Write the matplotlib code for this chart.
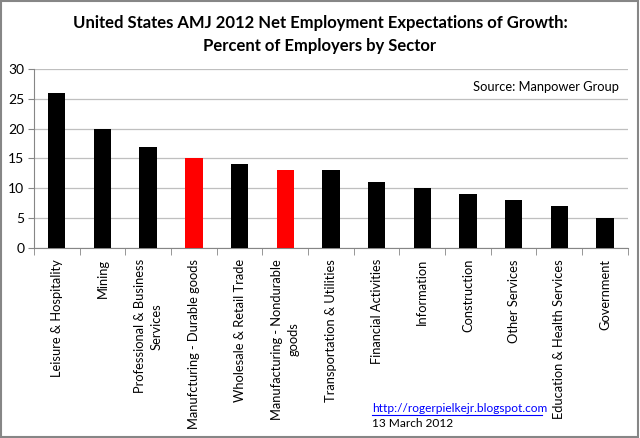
import matplotlib
matplotlib.use("Agg")
import matplotlib.pyplot as plt
from matplotlib.patches import Rectangle

plt.rcParams["font.family"] = ["Lato", "DejaVu Sans"]

sectors = [
    "Leisure & Hospitality",
    "Mining",
    "Professional & Business\nServices",
    "Manufcturing - Durable goods",
    "Wholesale & Retail Trade",
    "Manufacturing - Nondurable\ngoods",
    "Transportation & Utilities",
    "Financial Activities",
    "Information",
    "Construction",
    "Other Services",
    "Education & Health Services",
    "Government",
]
values = [26, 20, 17, 15, 14, 13, 13, 11, 10, 9, 8, 7, 5]
highlight = ["Manufcturing - Durable goods", "Manufacturing - Nondurable\ngoods"]

colors = ["#ff0000" if s in highlight else "#000000" for s in sectors]

fig = plt.figure(figsize=(6.4, 4.38), dpi=100)
ax = fig.add_axes([0.053, 0.434, 0.928, 0.4085])

x = range(len(sectors))
ax.bar(x, values, width=0.38, color=colors, zorder=3)

ax.set_ylim(0, 30)
ax.set_xlim(-0.5, len(sectors) - 0.5)
ax.set_yticks(range(0, 31, 5))
ax.yaxis.grid(True, color="#bfbfbf", linewidth=0.9, zorder=0)

ax.set_xticks(list(x))
ax.set_xticklabels(sectors, rotation=90, ha="center", va="top",
                   multialignment="center", fontsize=9.3, linespacing=1.5)
ax.set_xticks([i - 0.5 for i in range(len(sectors) + 1)], minor=True)
ax.tick_params(axis="x", which="major", length=0, pad=8)
ax.tick_params(axis="x", which="minor", length=5, color="#868686", direction="out")
ax.tick_params(axis="y", length=4, color="#868686", labelsize=10, pad=3)

for side in ["top", "right"]:
    ax.spines[side].set_visible(False)
for side in ["left", "bottom"]:
    ax.spines[side].set_color("#868686")

fig.text(0.5, 0.948, "United States AMJ 2012 Net Employment Expectations of Growth:",
         ha="center", va="center", fontsize=12, fontweight="bold")
fig.text(0.5, 0.896, "Percent of Employers by Sector",
         ha="center", va="center", fontsize=12, fontweight="bold")

ax.text(0.985, 0.9, "Source: Manpower Group", transform=ax.transAxes,
        ha="right", va="center", fontsize=9.3)

fig.text(0.582, 0.068, "http://rogerpielkejr.blogspot.com", color="#0000ff",
         ha="left", va="center", fontsize=8.6)
fig.add_artist(plt.Line2D([0.582, 0.847], [0.053, 0.053], color="#0000ff",
                          linewidth=0.8, transform=fig.transFigure))
fig.text(0.582, 0.033, "13 March 2012", ha="left", va="center", fontsize=8.6)

fig.add_artist(Rectangle((0.002, 0.003), 0.995, 0.994, transform=fig.transFigure,
                         fill=False, edgecolor="#868686", linewidth=1.5))

fig.savefig("out.png", dpi=100)
